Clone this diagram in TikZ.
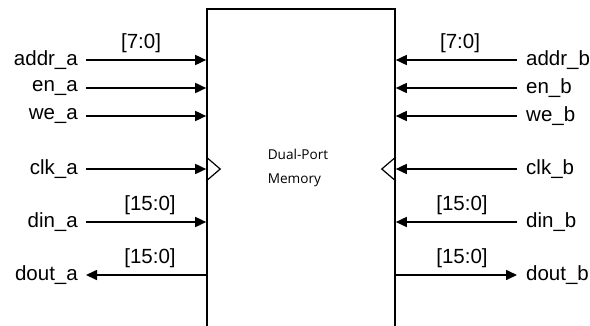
\documentclass[tikz,border=0pt]{standalone}
\usepackage{fontspec}
\setmainfont{Liberation Sans}
\newfontfamily\memfont{Open Sans}
\usetikzlibrary{arrows.meta,calc}
\begin{document}
\begin{tikzpicture}[x=1pt,y=-1pt,
  sig/.style={font=\fontsize{20.5}{24}\selectfont, inner sep=0pt},
  wire/.style={line width=1.6pt, -{Triangle[length=11pt,width=10pt]}},
  bus/.style={font=\fontsize{20.5}{24}\selectfont, inner sep=0pt, anchor=south},
  clkmark/.style={line width=1.2pt},
  blk/.style={draw, line width=1.6pt, minimum width=188pt, minimum height=340pt, inner sep=0pt}]
\useasboundingbox (0,0) rectangle (590,325);
\clip (0,0) rectangle (590,325);
\node[blk] (mem) at (301,179) {};
\node[font=\memfont\fontsize{13.6}{24}\selectfont, align=left, inner sep=0pt] (memtxt) at (298,168) {Dual-Port\\Memory};
% left side labels
\node[sig, anchor=east] (addra) at (78,60) {addr\_a};
\node[sig, anchor=east] (ena) at (78,88) {en\_a};
\node[sig, anchor=east] (wea) at (78,116) {we\_a};
\node[sig, anchor=east] (clka) at (78,169) {clk\_a};
\node[sig, anchor=east] (dina) at (78,222) {din\_a};
\node[sig, anchor=east] (douta) at (78,275) {dout\_a};
% right side labels
\node[sig, anchor=west] (addrb) at (526,60) {addr\_b};
\node[sig, anchor=west] (enb) at (526,88) {en\_b};
\node[sig, anchor=west] (web) at (526,116) {we\_b};
\node[sig, anchor=west] (clkb) at (526,169) {clk\_b};
\node[sig, anchor=west] (dinb) at (526,222) {din\_b};
\node[sig, anchor=west] (doutb) at (526,275) {dout\_b};
% left wires
\foreach \n/\y in {addra/60, ena/88, wea/116, clka/169, dina/222}
  \draw[wire] (86,\y) coordinate (s\n) -- (mem.west |- s\n);
\draw[wire] (mem.west |- douta) -- ($(douta.east)+(8,0)$);
% right wires
\foreach \n/\y in {addrb/60, enb/88, web/116, clkb/169, dinb/222}
  \draw[wire] (517,\y) coordinate (s\n) -- (mem.east |- s\n);
\draw[wire] (mem.east |- doutb) -- ($(doutb.west)+(-9,0)$);
% bus widths
\node[bus] (ba) at (141,53) {[7:0]};
\node[bus] (bb) at (460,53) {[7:0]};
\node[bus] (bdina) at (150,215) {[15:0]};
\node[bus] (bdouta) at (150,268) {[15:0]};
\node[bus] (bdinb) at (462,215) {[15:0]};
\node[bus] (bdoutb) at (462,268) {[15:0]};
% clock marks
\draw[clkmark] ($(mem.west |- clka)+(0,-12)$) -- ($(mem.west |- clka)+(14,0)$) -- ($(mem.west |- clka)+(0,12)$);
\draw[clkmark] ($(mem.east |- clkb)+(0,-12)$) -- ($(mem.east |- clkb)+(-14,0)$) -- ($(mem.east |- clkb)+(0,12)$);
\end{tikzpicture}
\end{document}
